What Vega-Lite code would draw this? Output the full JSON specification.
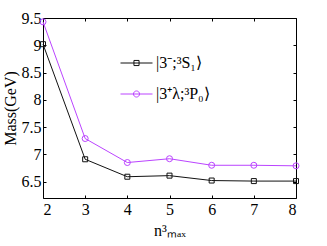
{
  "$schema": "https://vega.github.io/schema/vega-lite/v6.json",
  "width": 253,
  "height": 180,
  "autosize": "none",
  "padding": {"left": 43, "top": 18, "right": 31, "bottom": 48},
  "background": "white",
  "config": {
    "font": "Liberation Serif",
    "view": {"stroke": "black", "strokeWidth": 1},
    "axis": {
      "labelFont": "Liberation Serif",
      "titleFont": "Liberation Serif",
      "labelFontSize": 16,
      "titleFontSize": 16,
      "titleFontWeight": "normal",
      "labelColor": "black",
      "titleColor": "black",
      "tickColor": "black",
      "domain": false,
      "grid": false,
      "tickSize": -3
    }
  },
  "data": {
    "values": [
      {"n": 2, "mass": 9.02, "series": "a"},
      {"n": 3, "mass": 6.91, "series": "a"},
      {"n": 4, "mass": 6.59, "series": "a"},
      {"n": 5, "mass": 6.61, "series": "a"},
      {"n": 6, "mass": 6.52, "series": "a"},
      {"n": 7, "mass": 6.51, "series": "a"},
      {"n": 8, "mass": 6.51, "series": "a"},
      {"n": 2, "mass": 9.43, "series": "b"},
      {"n": 3, "mass": 7.29, "series": "b"},
      {"n": 4, "mass": 6.85, "series": "b"},
      {"n": 5, "mass": 6.92, "series": "b"},
      {"n": 6, "mass": 6.80, "series": "b"},
      {"n": 7, "mass": 6.80, "series": "b"},
      {"n": 8, "mass": 6.79, "series": "b"}
    ]
  },
  "encoding": {
    "x": {"field": "n", "type": "quantitative", "scale": {"domain": [2, 8], "nice": false, "zero": false}},
    "y": {"field": "mass", "type": "quantitative", "scale": {"domain": [6.2, 9.5], "nice": false, "zero": false}}
  },
  "layer": [
    {
      "mark": {"type": "line", "strokeWidth": 1},
      "encoding": {
        "x": {"field": "n", "type": "quantitative", "axis": {"orient": "bottom", "values": [2, 3, 4, 5, 6, 7, 8], "title": "n³ₘₐₓ", "labelPadding": 6, "titlePadding": 5}},
        "y": {"field": "mass", "type": "quantitative", "axis": {"orient": "left", "values": [6.5, 7, 7.5, 8, 8.5, 9, 9.5], "format": "~g", "title": "Mass(GeV)", "labelPadding": 5, "titlePadding": 3}},
        "color": {"field": "series", "type": "nominal", "scale": {"domain": ["a", "b"], "range": ["#111111", "#bb44ff"]}, "legend": null}
      }
    },
    {
      "transform": [{"filter": "datum.series == 'a'"}],
      "mark": {"type": "point", "shape": "square", "filled": false, "size": 25, "strokeWidth": 1, "opacity": 1},
      "encoding": {
        "x": {"field": "n", "type": "quantitative", "axis": null},
        "y": {"field": "mass", "type": "quantitative", "axis": null},
        "color": {"field": "series", "type": "nominal", "legend": null}
      }
    },
    {
      "transform": [{"filter": "datum.series == 'b'"}],
      "mark": {"type": "point", "shape": "circle", "filled": false, "size": 36, "strokeWidth": 1, "opacity": 1},
      "encoding": {
        "x": {"field": "n", "type": "quantitative", "axis": null},
        "y": {"field": "mass", "type": "quantitative", "axis": null},
        "color": {"field": "series", "type": "nominal", "legend": null}
      }
    },
    {
      "mark": {"type": "point", "filled": false, "opacity": 0, "strokeWidth": 1},
      "encoding": {
        "x": {"field": "n", "type": "quantitative", "axis": null},
        "y": {"field": "mass", "type": "quantitative", "axis": null},
        "color": {
          "field": "series",
          "type": "nominal",
          "legend": {
            "orient": "none",
            "legendX": 77,
            "legendY": 37,
            "title": null,
            "padding": 0,
            "symbolSize": 1024,
            "symbolStrokeWidth": 1,
            "symbolOpacity": 1,
            "symbolFillColor": "transparent",
            "clipHeight": 16,
            "rowPadding": 15,
            "labelOffset": 3,
            "labelFont": "Liberation Serif",
            "labelFontSize": 16,
            "labelColor": "black",
            "labelLimit": 200,
            "labelExpr": "datum.value == 'a' ? '|3⁻;³S₁⟩' : '|3⁺λ;³P₀⟩'"
          }
        },
        "shape": {
          "field": "series",
          "type": "nominal",
          "scale": {
            "domain": ["a", "b"],
            "range": [
              "M-1,0H1M-0.16,-0.16H0.16V0.16H-0.16Z",
              "M-1,0H1M-0.19,0A0.19,0.19,0,1,1,0.19,0A0.19,0.19,0,1,1,-0.19,0Z"
            ]
          }
        }
      }
    },
    {
      "mark": {"type": "point", "opacity": 0},
      "encoding": {
        "x": {"field": "n", "type": "quantitative", "axis": {"orient": "top", "values": [2, 3, 4, 5, 6, 7, 8], "labels": false, "title": null}},
        "y": {"field": "mass", "type": "quantitative", "axis": {"orient": "right", "values": [6.5, 7, 7.5, 8, 8.5, 9, 9.5], "labels": false, "title": null}}
      }
    }
  ],
  "resolve": {
    "axis": {"x": "independent", "y": "independent"},
    "legend": {"color": "independent", "shape": "independent"}
  }
}
